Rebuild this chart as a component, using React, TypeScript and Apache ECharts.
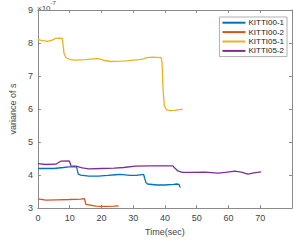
import React, { useEffect, useRef } from "react";
import * as echarts from "echarts";

const seriesNames = ["KITTI00-1", "KITTI00-2", "KITTI05-1", "KITTI05-2"];
const seriesColors = ["#0072BD", "#D95319", "#EDB120", "#7E2F8E"];

const kitti00_1: [number, number][] = [
  [0, 4.2], [5, 4.2], [8, 4.23], [9.8, 4.25], [12.2, 4.25], [12.4, 4.15], [12.7, 4.03],
  [13.5, 4.0], [16, 3.97], [19, 3.97], [22, 3.99], [24.4, 4.01], [26, 4.02], [29, 3.99],
  [31, 3.99], [33.3, 4.02], [33.6, 3.9], [34, 3.78], [34.5, 3.73], [37.5, 3.7], [40, 3.7],
  [42.7, 3.72], [43.7, 3.73], [44.4, 3.72], [44.8, 3.62],
];
const kitti00_2: [number, number][] = [
  [0, 3.28], [2.5, 3.24], [6, 3.25], [10, 3.26], [13.5, 3.27], [14.6, 3.29], [14.9, 3.2],
  [15.1, 3.11], [16.5, 3.09], [18.2, 3.06], [21, 3.05], [24, 3.06], [25.4, 3.07],
];
const kitti05_1: [number, number][] = [
  [0, 8.11], [1, 8.08], [3, 8.05], [4.5, 8.09], [5.6, 8.14], [7.6, 8.15], [7.8, 8.05],
  [8.2, 7.7], [8.8, 7.56], [10, 7.5], [12, 7.48], [15, 7.5], [18.2, 7.53], [19.5, 7.52],
  [21, 7.47], [23, 7.44], [26, 7.45], [28, 7.46], [30, 7.48], [32, 7.5], [33.3, 7.52],
  [34.3, 7.56], [36, 7.57], [38.8, 7.56], [39.1, 7.4], [39.4, 6.6], [39.8, 6.1],
  [40.5, 5.98], [41.6, 5.95], [43, 5.96], [45.6, 6.0],
];
const kitti05_2: [number, number][] = [
  [0, 4.35], [2.5, 4.32], [5.6, 4.33], [7.2, 4.42], [9.8, 4.43], [10.1, 4.38], [10.4, 4.28],
  [12, 4.27], [14, 4.22], [16, 4.19], [20, 4.2], [24, 4.21], [27, 4.23], [30.7, 4.27],
  [35, 4.28], [42.5, 4.28], [43, 4.22], [44, 4.13], [45.5, 4.08], [48, 4.08], [52.6, 4.09],
  [56.7, 4.06], [59, 4.08], [62, 4.12], [64, 4.09], [66.1, 4.03], [68, 4.07], [70.3, 4.1],
];
const allData = [kitti00_1, kitti00_2, kitti05_1, kitti05_2];

const FONT = "Liberation Sans";
const AXIS_COLOR = "#8a8a8a";
const LABEL_COLOR = "#444";

export default function App() {
  const ref = useRef<HTMLDivElement>(null);
  useEffect(() => {
    if (!ref.current) return;
    const chart = echarts.init(ref.current, null, { renderer: "svg" });
    const baseX = {
      type: "value" as const,
      min: 0,
      max: 80,
      interval: 10,
      splitLine: { show: false },
      axisLine: { show: true, onZero: false, lineStyle: { color: AXIS_COLOR, width: 1 } },
      axisTick: { show: true, inside: true, length: 3, lineStyle: { color: AXIS_COLOR } },
    };
    const baseY = {
      type: "value" as const,
      min: 3,
      max: 9,
      interval: 1,
      splitLine: { show: false },
      axisLine: { show: true, onZero: false, lineStyle: { color: AXIS_COLOR, width: 1 } },
      axisTick: { show: true, inside: true, length: 3, lineStyle: { color: AXIS_COLOR } },
    };
    chart.setOption({
      animation: false,
      grid: { left: 37, right: 1, top: 10, bottom: 29, containLabel: false },
      xAxis: [
        {
          ...baseX,
          position: "bottom",
          name: "Time(sec)",
          nameLocation: "middle",
          nameGap: 16,
          nameTextStyle: { fontFamily: FONT, fontSize: 9, color: LABEL_COLOR },
          axisLabel: { fontFamily: FONT, fontSize: 9, color: LABEL_COLOR, margin: 5, showMaxLabel: false },
        },
        { ...baseX, position: "top", axisLabel: { show: false } },
      ],
      yAxis: [
        {
          ...baseY,
          position: "left",
          name: "variance of s",
          nameLocation: "middle",
          nameGap: 14,
          nameTextStyle: { fontFamily: FONT, fontSize: 9, color: LABEL_COLOR },
          axisLabel: { fontFamily: FONT, fontSize: 9, color: LABEL_COLOR, margin: 5 },
        },
        { ...baseY, position: "right", axisLabel: { show: false } },
      ],
      legend: {
        orient: "vertical",
        right: 6,
        top: 17,
        padding: [1, 3, 1, 3],
        itemGap: 0,
        itemWidth: 23,
        itemHeight: 2,
        icon: "rect",
        backgroundColor: "#fff",
        borderColor: "#b0b0b0",
        borderWidth: 1,
        borderRadius: 0,
        textStyle: { fontFamily: FONT, fontSize: 8, color: "#222", lineHeight: 9.4, padding: [0, 0, 0, -2] },
        data: seriesNames,
      },
      graphic: [
        {
          type: "text",
          left: 37,
          top: 0,
          style: {
            text: "{a|×10}{b|-7}",
            rich: {
              a: { fontFamily: FONT, fontSize: 8, fill: LABEL_COLOR, padding: [4, 0, 0, 0] },
              b: { fontFamily: FONT, fontSize: 6, fill: LABEL_COLOR, verticalAlign: "top" },
            },
          },
        },
      ],
      series: seriesNames.map((name, i) => ({
        name,
        type: "line",
        data: allData[i],
        showSymbol: false,
        symbol: "none",
        lineStyle: { color: seriesColors[i], width: 1.3 },
        itemStyle: { color: seriesColors[i] },
        xAxisIndex: 0,
        yAxisIndex: 0,
      })),
    });
    return () => chart.dispose();
  }, []);
  return <div ref={ref} style={{ width: 293, height: 241, position: "absolute", left: 0, top: 0 }} />;
}
